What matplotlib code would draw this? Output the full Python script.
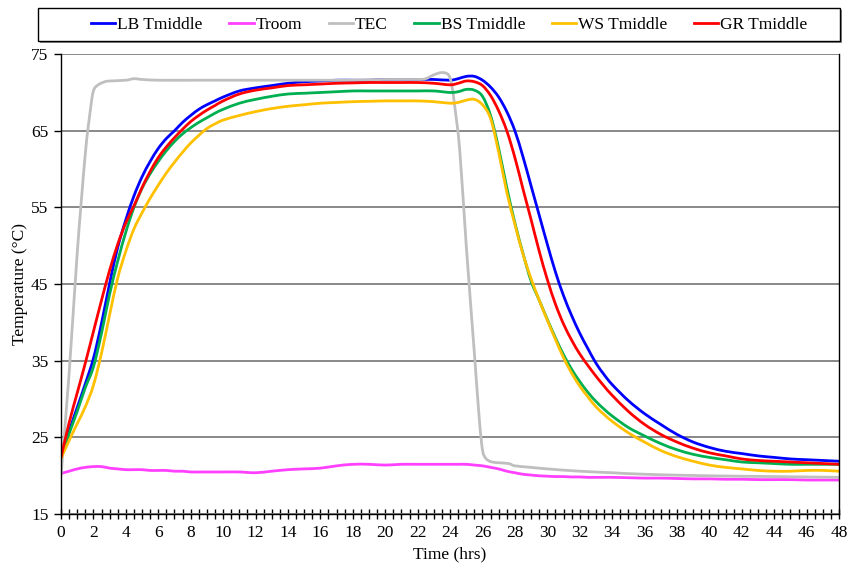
import numpy as np
import matplotlib
matplotlib.use("Agg")
import matplotlib.pyplot as plt
from matplotlib.ticker import MultipleLocator
from matplotlib.patches import Rectangle, PathPatch
from matplotlib.path import Path
from matplotlib.lines import Line2D

plt.rcParams['font.family'] = ['Liberation Serif', 'DejaVu Serif']

# time grid (hrs) shared by the measured series
t = [0, 0.5, 1, 1.5, 2, 2.5, 3, 3.5, 4, 4.5, 5, 5.5, 6, 6.5, 7, 7.5, 8, 8.5, 9, 9.5, 10,
     11, 12, 13, 14, 15, 16, 17, 18, 19, 20, 21, 22, 23, 24,
     24.5, 25, 25.5, 26, 26.5, 27, 27.5, 28, 28.5, 29, 29.5, 30, 30.5, 31, 31.5, 32, 32.5, 33, 33.5, 34,
     35, 36, 37, 38, 39, 40, 41, 42, 43, 44, 45, 46, 47, 48]

lb = [22.5, 25.8, 28.9, 32.0, 35.3, 39.9, 45.1, 49.8, 53.4, 56.5, 59.0, 61.0, 62.7, 64.0, 65.0, 66.1, 67.0, 67.8, 68.4, 68.9, 69.4,
      70.2, 70.6, 70.9, 71.2, 71.4, 71.5, 71.6, 71.6, 71.6, 71.7, 71.7, 71.7, 71.7, 71.6,
      71.8, 72.1, 72.1, 71.6, 70.7, 69.4, 67.5, 65.0, 61.6, 57.8, 54.0, 50.2, 46.6, 43.5, 40.9, 38.6, 36.6, 34.7, 33.2, 31.9,
      29.8, 28.1, 26.7, 25.4, 24.4, 23.7, 23.2, 22.9, 22.6, 22.4, 22.2, 22.1, 22.0, 21.9]

troom = [20.3, 20.6, 20.9, 21.1, 21.2, 21.2, 21.0, 20.9, 20.8, 20.8, 20.8, 20.7, 20.7, 20.7, 20.6, 20.6, 20.5, 20.5, 20.5, 20.5, 20.5,
         20.5, 20.4, 20.6, 20.8, 20.9, 21.0, 21.3, 21.5, 21.5, 21.4, 21.5, 21.5, 21.5, 21.5,
         21.5, 21.5, 21.4, 21.3, 21.1, 20.9, 20.6, 20.4, 20.2, 20.1, 20.0, 19.95, 19.9, 19.9, 19.85, 19.85, 19.8, 19.8, 19.8, 19.8,
         19.75, 19.7, 19.7, 19.65, 19.6, 19.6, 19.55, 19.55, 19.5, 19.5, 19.5, 19.45, 19.45, 19.45]

bs = [22.4, 25.5, 28.4, 31.5, 34.2, 38.6, 43.7, 48.0, 51.8, 55.0, 57.5, 59.4, 61.0, 62.4, 63.6, 64.6, 65.4, 66.1, 66.7, 67.3, 67.8,
      68.6, 69.1, 69.5, 69.8, 69.9, 70.0, 70.1, 70.2, 70.2, 70.2, 70.2, 70.2, 70.2, 70.0,
      70.1, 70.4, 70.3, 69.5, 67.0, 62.7, 57.6, 53.0, 49.0, 45.4, 42.9, 40.4, 38.0, 35.8, 33.9, 32.3, 30.9, 29.7, 28.7, 27.8,
      26.3, 25.2, 24.2, 23.4, 22.8, 22.4, 22.1, 21.8, 21.7, 21.6, 21.5, 21.5, 21.5, 21.5]

ws = [22.3, 24.6, 26.8, 29.0, 31.8, 36.0, 41.0, 45.8, 49.3, 52.2, 54.3, 56.2, 57.9, 59.5, 60.9, 62.2, 63.4, 64.4, 65.3, 65.9, 66.4,
      67.0, 67.5, 67.9, 68.2, 68.4, 68.6, 68.7, 68.8, 68.85, 68.9, 68.9, 68.9, 68.8, 68.6,
      68.7, 69.0, 69.1, 68.4, 66.6, 62.2, 57.0, 52.8, 48.9, 45.7, 42.9, 40.3, 37.8, 35.4, 33.4, 31.7, 30.3, 29.0, 28.0, 27.1,
      25.6, 24.4, 23.3, 22.5, 21.9, 21.4, 21.1, 20.9, 20.7, 20.6, 20.6, 20.7, 20.7, 20.6]

gr = [22.4, 26.9, 30.8, 34.7, 38.8, 42.9, 46.8, 50.2, 53.0, 55.2, 57.6, 59.7, 61.5, 62.9, 64.1, 65.2, 66.2, 67.0, 67.7, 68.3, 68.9,
      69.8, 70.3, 70.6, 70.9, 71.0, 71.1, 71.2, 71.25, 71.3, 71.3, 71.3, 71.3, 71.2, 71.0,
      71.2, 71.5, 71.4, 70.9, 69.6, 67.6, 65.0, 61.5, 57.4, 53.4, 49.3, 45.6, 42.4, 39.8, 37.7, 35.9, 34.4, 33.0, 31.7, 30.5,
      28.4, 26.7, 25.4, 24.4, 23.6, 23.0, 22.6, 22.2, 22.0, 21.9, 21.8, 21.7, 21.6, 21.5]

# TEC needs its own finer time points around the steep edges
t_tec = [0, 0.5, 1, 1.5, 1.8, 2.0, 2.3, 2.7, 3, 4, 4.5, 5, 6, 8, 10, 12, 14, 16, 18, 20, 22, 22.5, 23, 23.5, 23.9,
         24.1, 24.3, 24.6, 25.0, 25.5, 25.8, 26.0, 26.2, 26.6, 27.6, 28, 29, 30, 32, 34, 36, 40, 44, 48]
tec = [20.0, 33.3, 49.0, 62.0, 67.5, 70.2, 71.0, 71.4, 71.5, 71.6, 71.8, 71.7, 71.6, 71.6, 71.6, 71.6, 71.6, 71.6, 71.6, 71.7, 71.7, 71.8, 72.3, 72.6, 72.3,
       71.0, 68.0, 62.4, 50.0, 36.0, 27.5, 23.4, 22.3, 21.8, 21.6, 21.3, 21.1, 20.9, 20.6, 20.4, 20.2, 20.0, 19.9, 19.8]

y_ticks = [15, 25, 35, 45, 55, 65, 75]


def smooth_line(ax, x, y, color, lw):
    # draw like an Excel "smoothed line": cubic bezier through every data point
    pts = np.column_stack([np.asarray(x, float), np.asarray(y, float)])
    p = np.vstack([pts[0], pts, pts[-1]])
    verts = [pts[0]]
    codes = [Path.MOVETO]
    for i in range(len(pts) - 1):
        p0, p1, p2, p3 = p[i], p[i + 1], p[i + 2], p[i + 3]
        verts += [p1 + (p2 - p0) / 6, p2 - (p3 - p1) / 6, p2]
        codes += [Path.CURVE4] * 3
    ax.add_patch(PathPatch(Path(verts, codes), facecolor='none', edgecolor=color, lw=lw,
                           capstyle='round', joinstyle='round', zorder=3))
    return Line2D([], [], color=color, lw=lw)


fig = plt.figure(figsize=(8.47, 5.70), dpi=100)
ax = fig.add_axes([0.072, 0.098, 0.9187, 0.807])

lw = 2.0
series = [(t, lb, '#0000FF', 'LB Tmiddle'),
          (t, troom, '#FF40FF', 'Troom'),
          (t_tec, tec, '#BFBFBF', 'TEC'),
          (t, bs, '#00B050', 'BS Tmiddle'),
          (t, ws, '#FFC000', 'WS Tmiddle'),
          (t, gr, '#FF0000', 'GR Tmiddle')]
handles = []
labels = []
for xs, ys, c, name in series:
    handles.append(smooth_line(ax, xs, ys, c, lw))
    labels.append(name)

ax.set_xlim(0, 48)
ax.set_ylim(15, 75)
ax.xaxis.set_major_locator(MultipleLocator(2))
ax.xaxis.set_minor_locator(MultipleLocator(0.5))
ax.set_yticks(y_ticks)
ax.tick_params(axis='x', which='both', direction='inout', length=7, width=1, labelsize=12.5, pad=4)
ax.tick_params(axis='y', which='major', direction='out', length=5, width=1, labelsize=12.5, pad=4)
ax.yaxis.grid(True, color='#7F7F7F', lw=1.3, zorder=1)
ax.spines['top'].set_visible(False)
for s in ['left', 'right', 'bottom']:
    ax.spines[s].set_color('black')
    ax.spines[s].set_linewidth(1.0)
    ax.spines[s].set_zorder(4)

ax.set_xlabel('Time (hrs)', fontsize=12.5, labelpad=4)
ax.set_ylabel('Temperature (°C)', fontsize=12.5, labelpad=2)

# legend box drawn separately, entries centred inside it
W, H = 847.0, 570.0
x0, x1, y0, y1 = 38 / W, 840 / W, 1 - 41 / H, 1 - 8 / H
fig.patches.append(Rectangle((x0 + 1.5 / W, y0 - 2 / H), x1 - x0, y1 - y0, transform=fig.transFigure,
                             facecolor='#8C8C8C', edgecolor='none', zorder=0))
fig.patches.append(Rectangle((x0, y0), x1 - x0, y1 - y0, transform=fig.transFigure,
                             facecolor='white', edgecolor='black', lw=1.0, zorder=1))
leg = fig.legend(handles, labels, loc='center', bbox_to_anchor=((x0 + x1) / 2 + 0.012, (y0 + y1) / 2), ncol=6,
                 fontsize=12.5, frameon=False, handlelength=1.4, handletextpad=0.1, columnspacing=1.55)

fig.savefig('out.png', dpi=100)
